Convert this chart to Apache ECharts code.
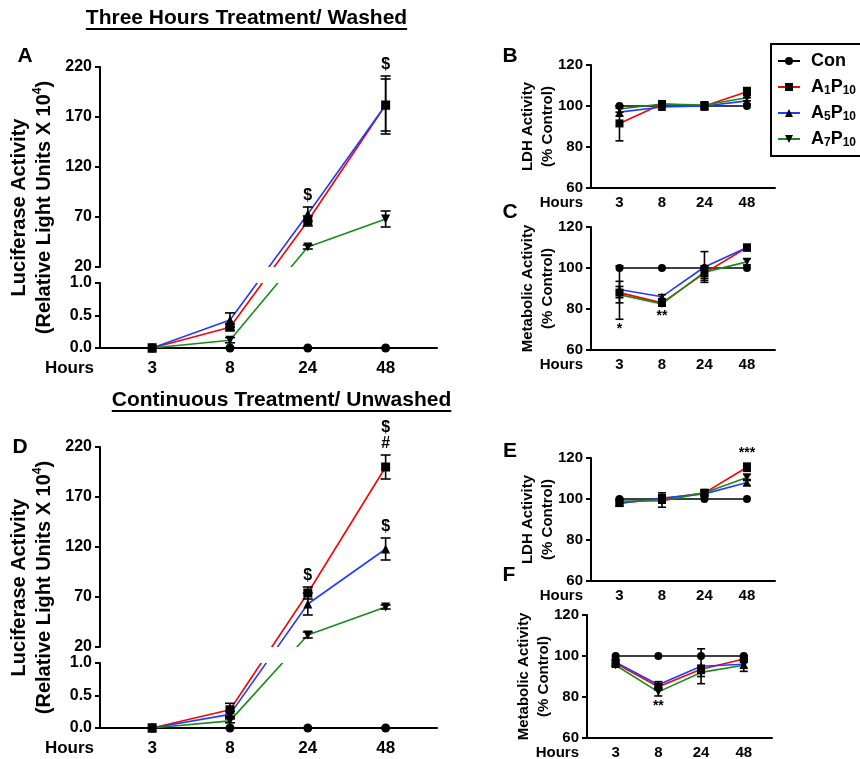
<!DOCTYPE html>
<html>
<head>
<meta charset="utf-8">
<script src="https://cdn.jsdelivr.net/npm/echarts@6/dist/echarts.min.js"></script>
<style>
html, body { margin: 0; padding: 0; background: #fff; }
#chart { width: 860px; height: 759px; }
</style>
</head>
<body>
<div id="chart"></div>
<script>
var hours = ['3', '8', '24', '48'];
var groups = ['Con', 'A1P10', 'A5P10', 'A7P10'];
var lineColors = ['#000000', '#ff0000', '#1f3cff', '#1a8a1a'];
var symbols = ['circle', 'rect', 'triangle', 'path://M0,0L10,0L5,9Z'];

// A: luciferase, three hours treatment / washed (RLU x 10^4)
var lucWashed = [
	[0, 0, 0, 0],
	[0, 0.32, 66, 182],
	[0, 0.43, 73, 182],
	[0, 0.12, 40, 68]
];
var lucWashedErr = [
	[0, 0, 0, 0],
	[0, 0.05, 5, 29],
	[0, 0.11, 7, 26],
	[0, 0.04, 2, 8]
];
// [hour, group, text, 1 above / -1 below]
var lucWashedSig = [[2, 2, '$', 1], [3, 1, '$', 1]];

// B: LDH, washed (% control)
var ldhWashed = [
	[100, 100, 100, 100],
	[91.5, 101, 100, 107],
	[97, 99.5, 100, 102.5],
	[98.5, 101, 100.5, 104]
];
var ldhWashedErr = [
	[0, 0, 0, 0],
	[8.5, 1, 2, 2],
	[2, 1, 1.5, 1.5],
	[1.5, 1, 1, 1.5]
];
var ldhWashedSig = [];

// C: metabolic activity, washed (% control)
var metWashed = [
	[100, 100, 100, 100],
	[88, 83, 97.5, 110],
	[89.5, 86, 100.5, 110],
	[87, 82.5, 98, 103]
];
var metWashedErr = [
	[0, 0, 0, 0],
	[13, 1.5, 3.5, 1.5],
	[4, 1, 7.5, 1],
	[4, 1, 3, 1.5]
];
var metWashedSig = [[0, 1, '*', -1], [1, 3, '**', -1]];

// D: luciferase, continuous treatment / unwashed
var lucUnwashed = [
	[0, 0, 0, 0],
	[0, 0.28, 74, 200],
	[0, 0.21, 63, 118],
	[0, 0.11, 32, 60]
];
var lucUnwashedErr = [
	[0, 0, 0, 0],
	[0, 0.1, 6, 12],
	[0, 0.05, 11, 11],
	[0, 0.03, 3, 2]
];
var lucUnwashedSig = [[2, 1, '$', 1], [3, 1, '$\n#', 1], [3, 2, '$', 1]];

// E: LDH, unwashed
var ldhUnwashed = [
	[100, 100, 100, 100],
	[98, 100, 103, 115.5],
	[98, 100.5, 102.5, 108],
	[99, 99, 103, 110.5]
];
var ldhUnwashedErr = [
	[0, 0, 0, 0],
	[1.5, 2, 1.5, 2],
	[1, 2.5, 1, 1.5],
	[1, 3, 1, 1.5]
];
var ldhUnwashedSig = [[3, 1, '***', 1]];

// F: metabolic activity, unwashed
var metUnwashed = [
	[100, 100, 100, 100],
	[96.5, 85, 93.5, 98.5],
	[97, 86, 95, 96],
	[95.5, 82.5, 92, 95.5]
];
var metUnwashedErr = [
	[0, 0, 0, 0],
	[1.5, 1.5, 2, 1.5],
	[1.5, 1.5, 8.5, 2],
	[1, 2, 2, 3]
];
var metUnwashedSig = [[1, 3, '**', -1]];

var FONT = '"Liberation Sans", Arial, Helvetica, sans-serif';
var X_MIN = -0.67, X_MAX = 3.66;
// broken luciferase axis: 0-1 below, 20-220 above
var LOW_MAX = 1, UP_MIN = 20, UP_MAX = 220;
var LOW_H = 65, GAP_H = 16, UP_H = 200;

function brk(v) {
	if (v <= LOW_MAX) return v / LOW_MAX * LOW_H;
	return LOW_H + GAP_H + (v - UP_MIN) / (UP_MAX - UP_MIN) * UP_H;
}
function ident(v) { return v; }

var grids = [], xAxes = [], yAxes = [], series = [];

function addGrid(left, top, width, height) {
	grids.push({left: left, top: top, width: width, height: height, containLabel: false, outerBoundsMode: 'none'});
	return grids.length - 1;
}

function txt(size) {
	return {color: '#000', fontFamily: FONT, fontWeight: 'bold', fontSize: size};
}

function hoursAxis(gi, size, margin, nameGap) {
	return {
		type: 'value', gridIndex: gi, min: X_MIN, max: X_MAX,
		axisLine: {show: true, onZero: false, lineStyle: {color: '#000', width: 2}},
		axisTick: {show: false},
		splitLine: {show: false},
		axisLabel: Object.assign(txt(size), {
			margin: margin,
			customValues: [0, 1, 2, 3],
			formatter: function (v) { return hours[Math.round(v)]; }
		}),
		name: 'Hours', nameLocation: 'start', nameGap: nameGap, nameMoveOverlap: false,
		nameTextStyle: Object.assign(txt(size), {verticalAlign: 'top', lineHeight: size, padding: [margin, 0, 0, 0]})
	};
}

function hiddenX(gi) {
	return {type: 'value', gridIndex: gi, min: X_MIN, max: X_MAX, show: false};
}

function valueY(gi, min, max, interval, size, fmt) {
	return {
		type: 'value', gridIndex: gi, min: min, max: max, interval: interval,
		axisLine: {show: true, onZero: false, lineStyle: {color: '#000', width: 2}},
		axisTick: {show: true, length: 5, lineStyle: {color: '#000', width: 2}},
		axisLabel: Object.assign(txt(size), {margin: 8, formatter: fmt}),
		splitLine: {show: false}
	};
}

function lineSeries(gi, g, data, size) {
	return {
		type: 'line', name: groups[g], xAxisIndex: gi, yAxisIndex: gi,
		data: data, symbol: symbols[g], symbolSize: size, showAllSymbol: true,
		lineStyle: {color: lineColors[g], width: 1.6},
		itemStyle: {color: '#000'},
		emphasis: {disabled: true}, silent: true, animation: false, clip: false, z: 2
	};
}

function errorSeries(gi, mean, err, f, cap) {
	var items = [];
	mean.forEach(function (row, g) {
		row.forEach(function (v, i) {
			if (err[g][i] > 0) items.push([i, f(v - err[g][i]), f(v + err[g][i])]);
		});
	});
	return {
		type: 'custom', xAxisIndex: gi, yAxisIndex: gi, data: items,
		silent: true, animation: false, z: 3,
		renderItem: function (params, api) {
			var hi = api.coord([api.value(0), api.value(2)]);
			var lo = api.coord([api.value(0), api.value(1)]);
			var h = cap / 2, st = {stroke: '#000', lineWidth: 1.6};
			return {type: 'group', children: [
				{type: 'line', shape: {x1: hi[0], y1: hi[1], x2: lo[0], y2: lo[1]}, style: st},
				{type: 'line', shape: {x1: hi[0] - h, y1: hi[1], x2: hi[0] + h, y2: hi[1]}, style: st},
				{type: 'line', shape: {x1: lo[0] - h, y1: lo[1], x2: lo[0] + h, y2: lo[1]}, style: st}
			]};
		}
	};
}

function sigSeries(gi, sig, mean, err, f, size) {
	var items = sig.map(function (s) {
		var i = s[0], g = s[1];
		return [i, f(mean[g][i] + s[3] * err[g][i]), s[3]];
	});
	return {
		type: 'custom', xAxisIndex: gi, yAxisIndex: gi, data: items,
		silent: true, animation: false, z: 4,
		renderItem: function (params, api) {
			var p = api.coord([api.value(0), api.value(1)]);
			var up = api.value(2) > 0;
			return {type: 'text', x: p[0], y: up ? p[1] - 3 : p[1] + 3, style: {
				text: sig[params.dataIndex][2], align: 'center', verticalAlign: up ? 'bottom' : 'top',
				font: 'bold ' + size + 'px ' + FONT, fill: '#000', lineHeight: size
			}};
		}
	};
}

function gapSeries(gi) {
	return {
		type: 'custom', xAxisIndex: gi, yAxisIndex: gi, data: [[0]],
		silent: true, animation: false, z: 6,
		renderItem: function (params, api) {
			var a = api.coord([X_MIN, LOW_H]), b = api.coord([X_MAX, LOW_H + GAP_H]);
			return {type: 'rect', shape: {x: a[0] + 2, y: b[1], width: b[0] - a[0], height: a[1] - b[1]}, style: {fill: '#fff'}};
		}
	};
}

function brokenPanel(left, top, width, mean, err, sig) {
	var gUp = addGrid(left, top, width, UP_H);
	xAxes.push(hiddenX(gUp));
	yAxes.push(valueY(gUp, UP_MIN, UP_MAX, 50, 16));
	var gLow = addGrid(left, top + UP_H + GAP_H, width, LOW_H);
	xAxes.push(hoursAxis(gLow, 17, 12, 6));
	yAxes.push(valueY(gLow, 0, LOW_MAX, 0.5, 16, function (v) { return v.toFixed(1); }));
	var gAll = addGrid(left, top, width, UP_H + GAP_H + LOW_H);
	xAxes.push(hiddenX(gAll));
	yAxes.push({
		type: 'value', gridIndex: gAll, min: 0, max: UP_H + GAP_H + LOW_H,
		axisLine: {show: false, onZero: false}, axisTick: {show: false}, axisLabel: {show: false}, splitLine: {show: false},
		name: '{n|Luciferase Activity}\n{n|(Relative Light Units X 10}{p|4}{n|)}',
		nameLocation: 'middle', nameGap: 43, nameMoveOverlap: false,
		nameTextStyle: {lineHeight: 25, rich: {
			n: Object.assign(txt(20), {lineHeight: 25}),
			p: Object.assign(txt(12), {lineHeight: 12, verticalAlign: 'top'})
		}}
	});
	mean.forEach(function (row, g) {
		series.push(lineSeries(gAll, g, row.map(function (v, i) { return [i, brk(v)]; }), 9));
	});
	series.push(errorSeries(gAll, mean, err, brk, 10));
	series.push(sigSeries(gAll, sig, mean, err, brk, 16));
	series.push(gapSeries(gAll));
}

function smallPanel(left, top, width, mean, err, sig, yName) {
	var g = addGrid(left, top, width, 123);
	xAxes.push(hoursAxis(g, 15, 7, 8));
	var y = valueY(g, 60, 120, 20, 15);
	y.name = yName;
	y.nameLocation = 'middle';
	y.nameGap = 33;
	y.nameMoveOverlap = false;
	y.nameTextStyle = Object.assign(txt(15), {lineHeight: 20});
	yAxes.push(y);
	mean.forEach(function (row, gi) {
		series.push(lineSeries(g, gi, row.map(function (v, i) { return [i, v]; }), 8));
	});
	series.push(errorSeries(g, mean, err, ident, 8));
	series.push(sigSeries(g, sig, mean, err, ident, 14));
}

brokenPanel(100, 67, 337, lucWashed, lucWashedErr, lucWashedSig);
brokenPanel(100, 447, 337, lucUnwashed, lucUnwashedErr, lucUnwashedSig);
smallPanel(591, 65, 184, ldhWashed, ldhWashedErr, ldhWashedSig, 'LDH Activity\n(% Control)');
smallPanel(591, 227, 184, metWashed, metWashedErr, metWashedSig, 'Metabolic Activity\n(% Control)');
smallPanel(591, 458, 184, ldhUnwashed, ldhUnwashedErr, ldhUnwashedSig, 'LDH Activity\n(% Control)');
smallPanel(587, 615, 185, metUnwashed, metUnwashedErr, metUnwashedSig, 'Metabolic Activity\n(% Control)');

function textWidth(text, font) {
	var ctx = document.createElement('canvas').getContext('2d');
	ctx.font = font;
	return ctx.measureText(text).width;
}

var titleFont = 'bold 21px ' + FONT;
var headings = [
	{text: 'Three Hours Treatment/ Washed', x: 246.5, y: 18, line: 29},
	{text: 'Continuous Treatment/ Unwashed', x: 281.5, y: 400, line: 411}
];
var letters = [['A', 25, 56], ['B', 510, 56], ['C', 510, 212], ['D', 20, 447], ['E', 510, 451], ['F', 509, 575]];

var graphic = [];
headings.forEach(function (h) {
	var w = textWidth(h.text, titleFont);
	graphic.push({type: 'text', x: h.x, y: h.y, style: {text: h.text, font: titleFont, fill: '#000', align: 'center', verticalAlign: 'middle'}});
	graphic.push({type: 'line', shape: {x1: h.x - w / 2, y1: h.line, x2: h.x + w / 2, y2: h.line}, style: {stroke: '#000', lineWidth: 2}});
});
letters.forEach(function (l) {
	graphic.push({type: 'text', x: l[1], y: l[2], style: {text: l[0], font: 'bold 21px ' + FONT, fill: '#000', align: 'center', verticalAlign: 'middle'}});
});

function legendName(name) {
	var m = /^A(\d+)P(\d+)$/.exec(name);
	if (!m) return '{f|' + name + '}';
	return '{f|A}{s|' + m[1] + '}{b|P}{s|' + m[2] + '}';
}

var chart = echarts.init(document.getElementById('chart'), null, {renderer: 'canvas'});
chart.setOption({
	backgroundColor: '#fff',
	animation: false,
	grid: grids,
	xAxis: xAxes,
	yAxis: yAxes,
	series: series,
	graphic: graphic,
	legend: {
		data: groups, orient: 'vertical', left: 771, top: 44,
		itemWidth: 22, itemHeight: 10, itemGap: 6,
		padding: [7, 8, 7, 6], borderColor: '#000', borderWidth: 2, borderRadius: 0,
		selectedMode: false,
		formatter: legendName,
		textStyle: {lineHeight: 20, rich: {
			f: Object.assign(txt(18), {lineHeight: 20, padding: [0, 0, 0, 6]}),
			b: Object.assign(txt(18), {lineHeight: 20}),
			s: Object.assign(txt(12), {lineHeight: 12, verticalAlign: 'bottom'})
		}}
	}
});
</script>
</body>
</html>
